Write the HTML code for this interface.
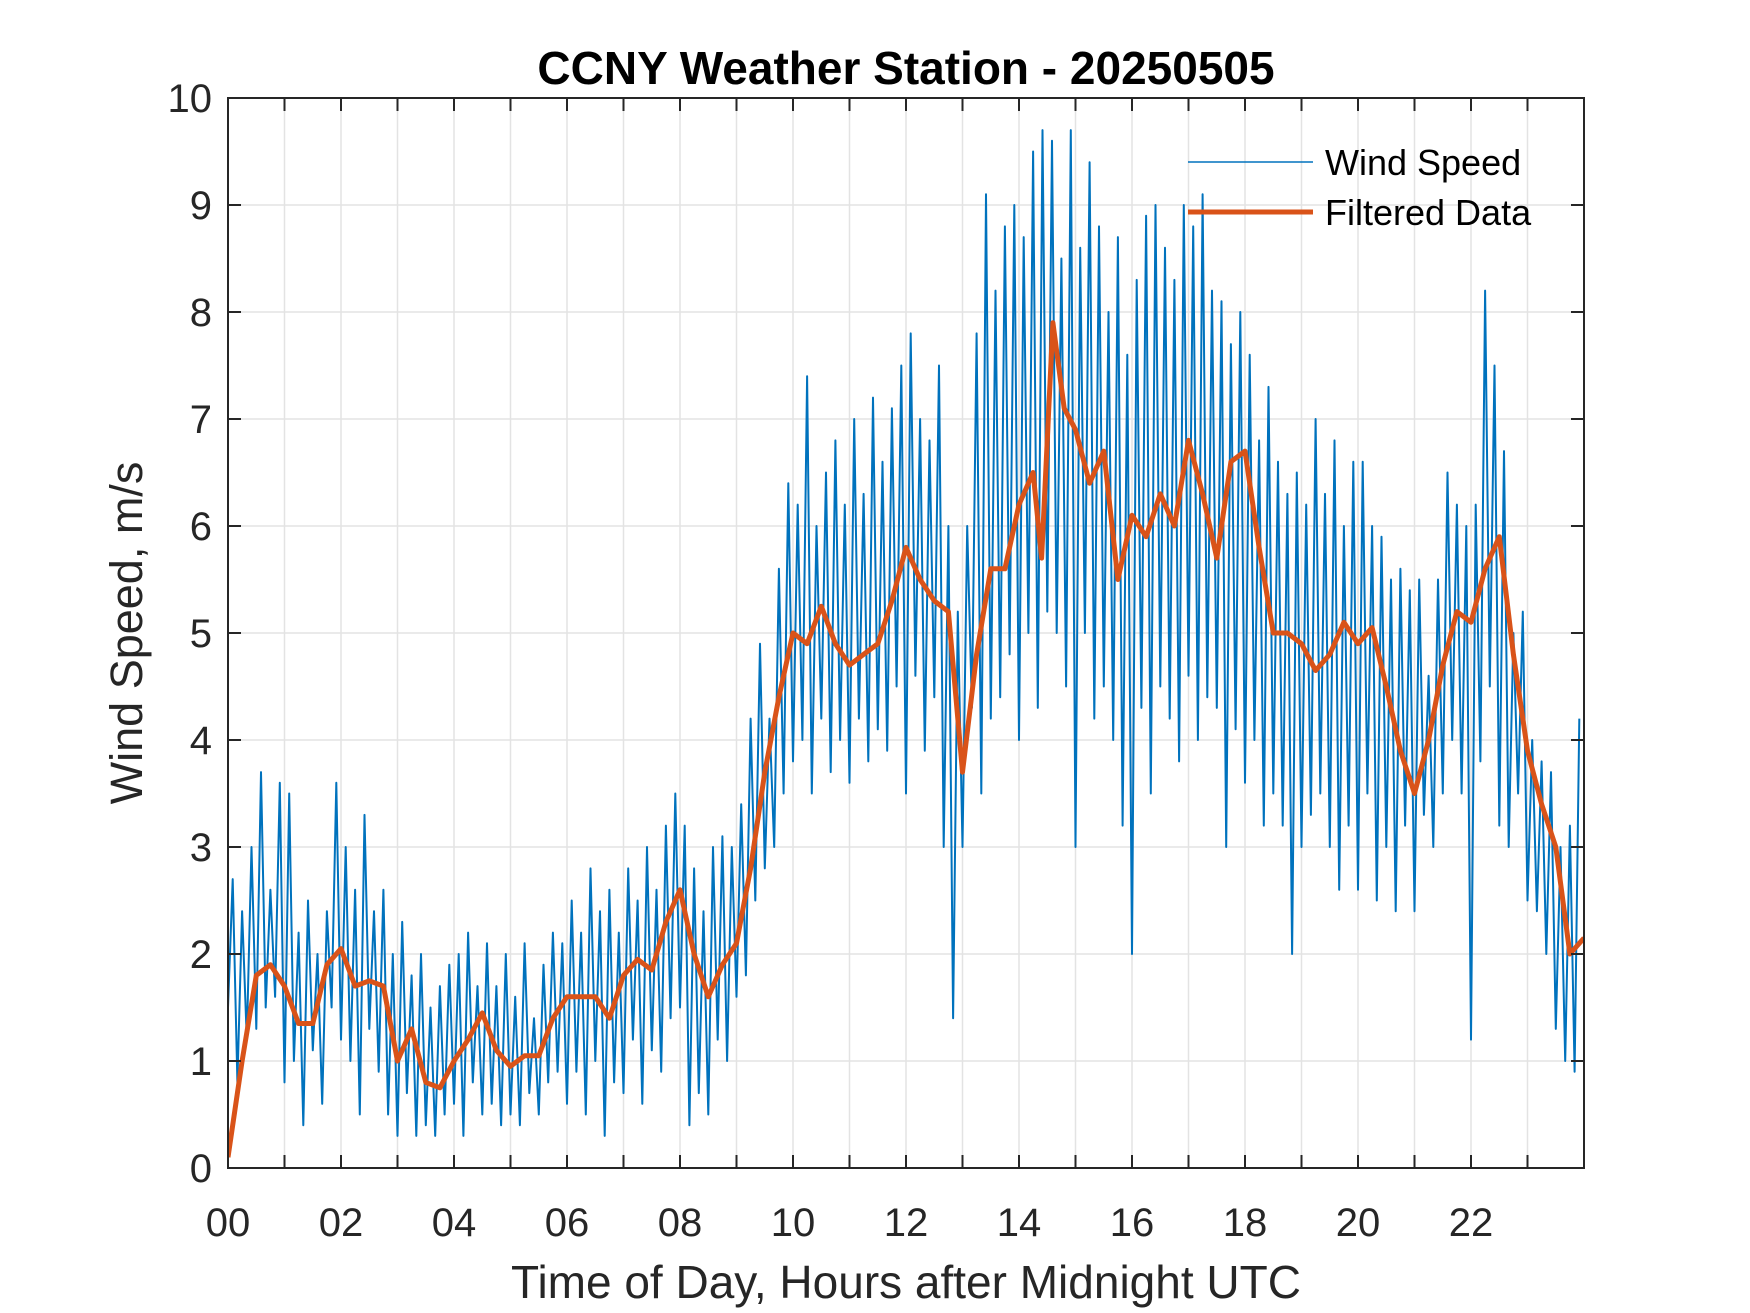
<!DOCTYPE html>
<html><head><meta charset="utf-8"><style>
html,body{margin:0;padding:0;background:#fff;}
svg{display:block;font-family:"Liberation Sans",Arial,sans-serif;}
</style></head><body>
<svg id="chart" width="1750" height="1313" viewBox="0 0 1750 1313">
<defs><clipPath id="pc"><rect x="228" y="98" width="1356" height="1070"/></clipPath></defs>
<rect width="1750" height="1313" fill="#fff"/>
<g id="grid"></g>
<g id="series" clip-path="url(#pc)"></g>
<g id="axes"></g>
<text x="906" y="84" text-anchor="middle" font-size="46" font-weight="bold" fill="#000">CCNY Weather Station - 20250505</text>
<text x="906" y="1298" text-anchor="middle" font-size="46" fill="#262626">Time of Day, Hours after Midnight UTC</text>
<text transform="translate(142,633) rotate(-90)" text-anchor="middle" font-size="45" fill="#262626">Wind Speed, m/s</text>
<g>
<line x1="1188" y1="162" x2="1313" y2="162" stroke="#0072BD" stroke-width="1.5"/>
<text x="1325" y="175" font-size="36" fill="#000">Wind Speed</text>
<line x1="1188" y1="212" x2="1313" y2="212" stroke="#D95319" stroke-width="5"/>
<text x="1325" y="225" font-size="36" fill="#000">Filtered Data</text>
</g>
</svg>
<script>
const rawHours = [
[1.5,2.7,0.8,2.4,1.2,3.0,1.3,3.7,1.5,2.6,1.6,3.6],
[0.8,3.5,1.0,2.2,0.4,2.5,1.1,2.0,0.6,2.4,1.5,3.6],
[1.2,3.0,1.0,2.6,0.5,3.3,1.3,2.4,0.9,2.6,0.5,2.0],
[0.3,2.3,0.7,1.8,0.3,2.0,0.4,1.5,0.3,1.7,0.5,1.9],
[0.6,2.0,0.3,2.2,0.8,1.7,0.5,2.1,0.6,1.7,0.4,2.0],
[0.5,1.6,0.4,2.1,0.7,1.4,0.5,1.9,0.8,2.2,0.9,2.1],
[0.6,2.5,0.9,2.2,0.5,2.8,1.0,2.4,0.3,2.6,0.8,2.2],
[0.7,2.8,1.2,2.5,0.6,3.0,1.1,2.6,0.9,3.2,1.4,3.5],
[1.5,3.2,0.4,2.8,0.7,2.4,0.5,3.0,1.2,3.1,1.0,3.0],
[1.6,3.4,1.8,4.2,2.5,4.9,2.8,4.2,3.0,5.6,3.5,6.4],
[3.8,6.2,4.0,7.4,3.5,6.0,4.2,6.5,3.7,6.8,4.0,6.2],
[3.6,7.0,4.2,6.3,3.8,7.2,4.1,6.6,3.9,7.1,4.5,7.5],
[3.5,7.8,4.6,7.0,3.9,6.8,4.4,7.5,3.0,6.0,1.4,5.2],
[3.0,6.0,4.3,7.8,3.5,9.1,4.2,8.2,4.4,8.8,4.8,9.0],
[4.0,8.7,5.0,9.5,4.3,9.7,5.2,9.6,5.0,8.5,4.5,9.7],
[3.0,8.6,5.0,9.4,4.2,8.8,4.5,8.0,4.0,8.7,3.2,7.6],
[2.0,8.3,4.3,8.9,3.5,9.0,4.5,8.6,4.2,8.3,3.8,9.0],
[4.6,8.8,4.0,9.1,4.4,8.2,4.3,8.1,3.0,7.7,4.1,8.0],
[3.6,7.6,4.0,6.8,3.2,7.3,3.5,6.6,3.2,6.3,2.0,6.5],
[3.0,6.2,3.3,7.0,3.5,6.3,3.0,6.8,2.6,6.0,3.2,6.6],
[2.6,6.6,3.5,6.0,2.5,5.9,3.0,5.5,2.4,5.6,3.2,5.4],
[2.4,5.5,3.3,4.6,3.0,5.5,3.5,6.5,4.0,6.2,3.5,6.0],
[1.2,6.2,3.8,8.2,4.5,7.5,3.2,6.7,3.0,5.0,3.5,5.2],
[2.5,4.0,2.4,3.8,2.0,3.7,1.3,3.0,1.0,3.2,0.9,4.2]
];
const filtT = [0,0.25,0.5,0.75,1,1.25,1.5,1.75,2,2.25,2.5,2.75,3,3.25,3.5,3.75,4,4.25,4.5,4.75,5,5.25,5.5,5.75,6,6.25,6.5,6.75,7,7.25,7.5,7.75,8,8.25,8.5,8.75,9,9.25,9.5,9.75,10,10.25,10.5,10.75,11,11.25,11.5,11.75,12,12.25,12.5,12.75,13,13.25,13.5,13.75,14,14.25,14.4,14.6,14.8,15,15.25,15.5,15.75,16,16.25,16.5,16.75,17,17.25,17.5,17.75,18,18.25,18.5,18.75,19,19.25,19.5,19.75,20,20.25,20.5,20.75,21,21.25,21.5,21.75,22,22.25,22.5,22.75,23,23.25,23.5,23.75,24];
const filtV = [0.1,1.0,1.8,1.9,1.7,1.35,1.35,1.9,2.05,1.7,1.75,1.7,1.0,1.3,0.8,0.75,1.0,1.2,1.45,1.1,0.95,1.05,1.05,1.4,1.6,1.6,1.6,1.4,1.8,1.95,1.85,2.3,2.6,2.0,1.6,1.9,2.1,2.8,3.7,4.4,5.0,4.9,5.25,4.9,4.7,4.8,4.9,5.3,5.8,5.5,5.3,5.2,3.7,4.8,5.6,5.6,6.2,6.5,5.7,7.9,7.1,6.9,6.4,6.7,5.5,6.1,5.9,6.3,6.0,6.8,6.3,5.7,6.6,6.7,5.8,5.0,5.0,4.9,4.65,4.8,5.1,4.9,5.05,4.5,3.9,3.5,4.0,4.7,5.2,5.1,5.6,5.9,4.8,3.9,3.4,3.0,2.0,2.15];
const xTickLabels = ["00","02","04","06","08","10","12","14","16","18","20","22"];
const yTickLabels = ["0","1","2","3","4","5","6","7","8","9","10"];

const NS="http://www.w3.org/2000/svg";
const L=228,R=1584,T=98,B=1168,XMAX=24,YMAX=10;
const xs=t=>L+(R-L)*t/XMAX;
const ys=v=>B-(B-T)*v/YMAX;
function mk(tag,attrs,parent){const e=document.createElementNS(NS,tag);for(const k in attrs)e.setAttribute(k,attrs[k]);parent.appendChild(e);return e;}
const grid=document.getElementById('grid'),axes=document.getElementById('axes'),series=document.getElementById('series');
for(let h=1;h<24;h++){const x=xs(h);if(x>=R)break;
 const g=mk('line',{x1:x,y1:T,x2:x,y2:B,stroke:'#e3e3e3','stroke-width':1.5},grid);
 
 
 const t1=mk('line',{x1:x,y1:B,x2:x,y2:B-13,stroke:'#262626','stroke-width':2},axes);
 
 
 const t2=mk('line',{x1:x,y1:T,x2:x,y2:T+13,stroke:'#262626','stroke-width':2},axes);
 
 
}
yTickLabels.forEach((lab,i)=>{const y=ys(+lab);
 if(i>0&&i<yTickLabels.length-1){const g=mk('line',{x1:L,y1:y,x2:R,y2:y,stroke:'#e3e3e3','stroke-width':1.5},grid);
 
 }
 const t1=mk('line',{x1:L,y1:y,x2:L+13,y2:y,stroke:'#262626','stroke-width':2},axes);
 
 
 const t2=mk('line',{x1:R,y1:y,x2:R-13,y2:y,stroke:'#262626','stroke-width':2},axes);
 
 
 const tx=mk('text',{x:212,y:y+14,'text-anchor':'end','font-size':40,fill:'#262626'},axes);
 tx.textContent=lab;
 
 
});
xTickLabels.forEach(lab=>{const x=xs(+lab);
 const tx=mk('text',{x:x,y:1236,'text-anchor':'middle','font-size':40,fill:'#262626'},axes);
 tx.textContent=lab;
 
 
});
const box=mk('rect',{x:L,y:T,width:R-L,height:B-T,fill:'none',stroke:'#262626','stroke-width':2},axes);


let pts=[];
rawHours.forEach((row,h)=>row.forEach((v,i)=>{pts.push(xs(h+i/12).toFixed(1)+','+ys(v).toFixed(1));}));
const raw=mk('polyline',{points:pts.join(' '),fill:'none',stroke:'#0072BD','stroke-width':2,'stroke-linejoin':'round'},series);


const fp=filtT.map((t,i)=>xs(t).toFixed(1)+','+ys(filtV[i]).toFixed(1)).join(' ');
const fl=mk('polyline',{points:fp,fill:'none',stroke:'#D95319','stroke-width':5,'stroke-linejoin':'round'},series);


</script>
</body></html>
